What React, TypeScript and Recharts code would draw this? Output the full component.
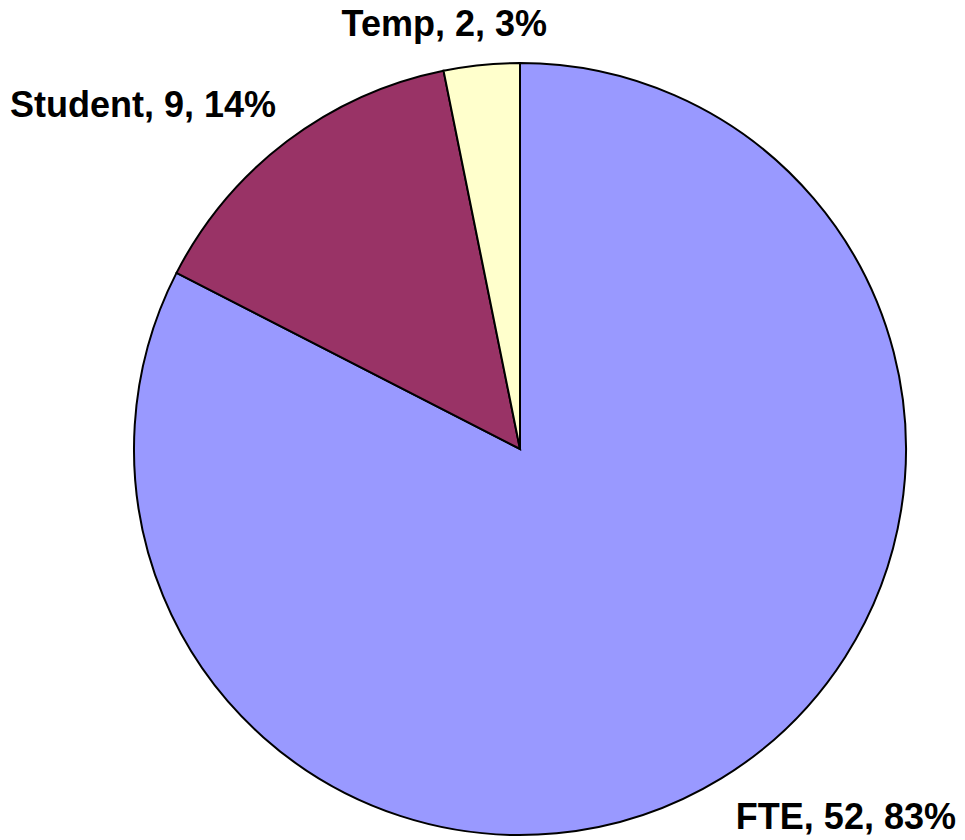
import { PieChart, Pie, Cell } from "recharts";

const categories = ["FTE", "Student", "Temp"];
const counts = [52, 9, 2];
const colors = ["#9999FF", "#993366", "#FFFFCC"];

const total = counts.reduce((a, b) => a + b, 0);
const data = categories.map((name, i) => ({ name, value: counts[i] }));

const RAD = Math.PI / 180;
const FONT_SIZE = 36;

function renderLabel(props: any) {
  const { cx, cy, midAngle, outerRadius, index } = props;
  const r = outerRadius + 28;
  const cos = Math.cos(-midAngle * RAD);
  const sin = Math.sin(-midAngle * RAD);
  const text = `${categories[index]}, ${counts[index]}, ${Math.round((counts[index] / total) * 100)}%`;
  const x0 = cx + r * cos;
  const y = cy + r * sin + (sin > 0 ? 14 : -14);
  // labels near the top/bottom slide sideways, the rest hang off the edge
  const k = Math.max(-1, Math.min(1, cos * 3.8));
  const w = text.length * FONT_SIZE * 0.46;
  let anchor = "middle";
  let x = x0 + (w / 2) * k;
  if (k >= 1) {
    anchor = "start";
    x = x0;
  } else if (k <= -1) {
    anchor = "end";
    x = x0 + 6;
  }
  return (
    <text
      x={x}
      y={y}
      textAnchor={anchor}
      dominantBaseline="central"
      fontFamily="'Liberation Sans', Arial, sans-serif"
      fontWeight="bold"
      fontSize={FONT_SIZE}
      fill="#000"
    >
      {text}
    </text>
  );
}

export default function App() {
  return (
    <div style={{ width: 957, height: 832, background: "#fff" }}>
      <style>{`svg.recharts-surface { overflow: visible; }`}</style>
      <PieChart width={957} height={832}>
        <Pie
          data={data}
          dataKey="value"
          nameKey="name"
          cx={507}
          cy={436}
          outerRadius={386}
          startAngle={90}
          endAngle={-270}
          stroke="#000"
          strokeWidth={2}
          label={renderLabel}
          labelLine={false}
          isAnimationActive={false}
        >
          {data.map((d, i) => (
            <Cell key={d.name} fill={colors[i]} />
          ))}
        </Pie>
      </PieChart>
    </div>
  );
}
